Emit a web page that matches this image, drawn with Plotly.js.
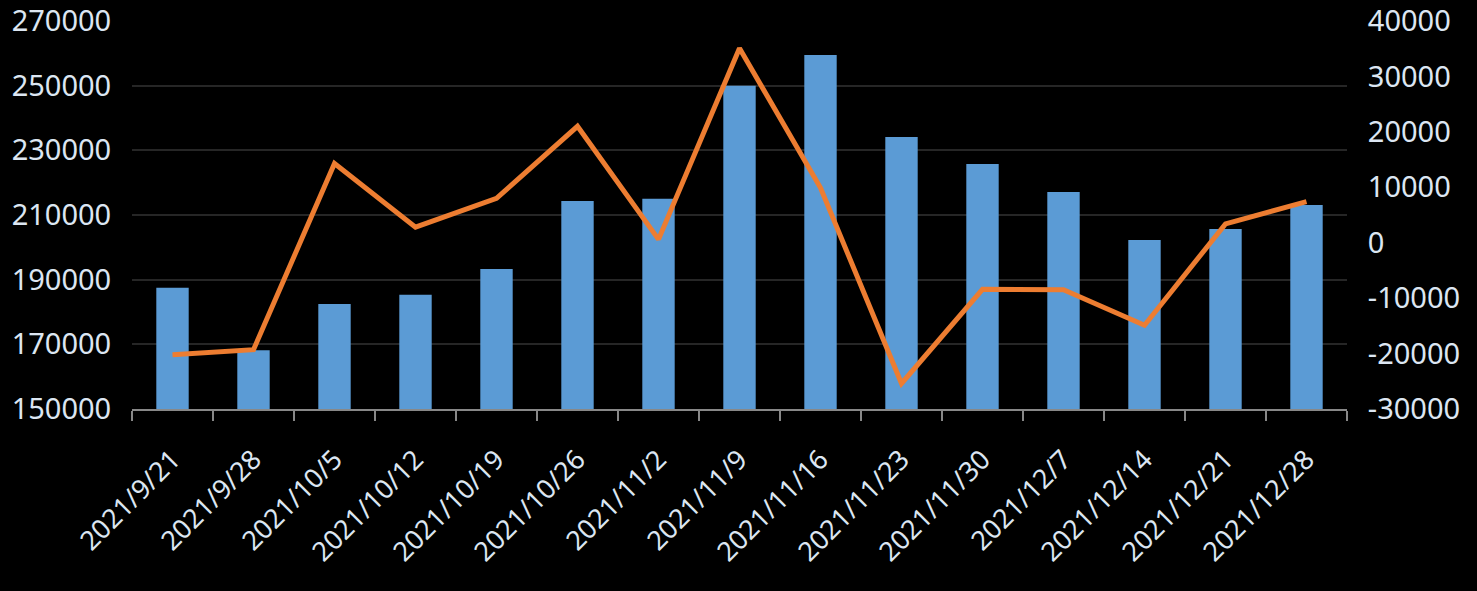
<!DOCTYPE html>
<html>
<head>
<meta charset="utf-8">
<script src="https://cdn.plot.ly/plotly-3.0.1.min.js"></script>
<style>html,body{margin:0;padding:0;background:#000;}#chart{width:1477px;height:591px;}</style>
</head>
<body>
<div id="chart"></div>
<script>
const categories = ["2021/9/21","2021/9/28","2021/10/5","2021/10/12","2021/10/19","2021/10/26","2021/11/2","2021/11/9","2021/11/16","2021/11/23","2021/11/30","2021/12/7","2021/12/14","2021/12/21","2021/12/28"];
const barValues = [187500,168200,182500,185300,193300,214300,215000,250000,259500,234100,225800,217100,202300,205700,213100];
const lineValues = [-20200,-19300,14300,2800,8000,21000,600,35100,9900,-25400,-8400,-8500,-14900,3400,7400];
const leftTicks = [150000,170000,190000,210000,230000,250000,270000];
const rightTicks = [-30000,-20000,-10000,0,10000,20000,30000,40000];

const textColor = "#dce6f2";
const font = {family: "Noto Sans, Open Sans, sans-serif", size: 29, color: textColor};
const xfont = {family: "Noto Sans, Open Sans, sans-serif", size: 27, color: textColor};

const traces = [
  {type: "bar", x: categories, y: barValues, yaxis: "y",
   marker: {color: "#5b9bd5"}, hoverinfo: "skip"},
  {type: "scatter", mode: "lines", x: categories, y: lineValues, yaxis: "y2",
   line: {color: "#ed7d31", width: 5}, hoverinfo: "skip"}
];

const layout = {
  width: 1477, height: 591,
  paper_bgcolor: "#000", plot_bgcolor: "#000",
  margin: {l: 132, r: 130, t: 21, b: 182},
  showlegend: false,
  bargap: 0.6,
  font: font,
  xaxis: {
    type: "category", tickangle: -45, tickfont: xfont,
    showline: true, linecolor: "#888", linewidth: 2,
    ticks: "outside", tickson: "boundaries", ticklen: 10, tickcolor: "#888", tickwidth: 2,
    ticklabelstandoff: 22,
    showgrid: false, zeroline: false
  },
  yaxis: {
    range: [150000, 270000], tickvals: leftTicks, ticktext: leftTicks.map(String),
    tickfont: font, showgrid: true, gridcolor: "#262626", gridwidth: 2,
    zeroline: false, showline: false, ticks: "outside", ticklen: 14, tickcolor: "rgba(0,0,0,0)"
  },
  yaxis2: {
    overlaying: "y", side: "right", range: [-30000, 40000],
    tickvals: rightTicks, ticktext: rightTicks.map(String),
    tickfont: font, showgrid: false, zeroline: false, showline: false,
    ticks: "outside", ticklen: 14, tickcolor: "rgba(0,0,0,0)"
  }
};

Plotly.newPlot("chart", traces, layout, {displayModeBar: false, staticPlot: true});
</script>
</body>
</html>
